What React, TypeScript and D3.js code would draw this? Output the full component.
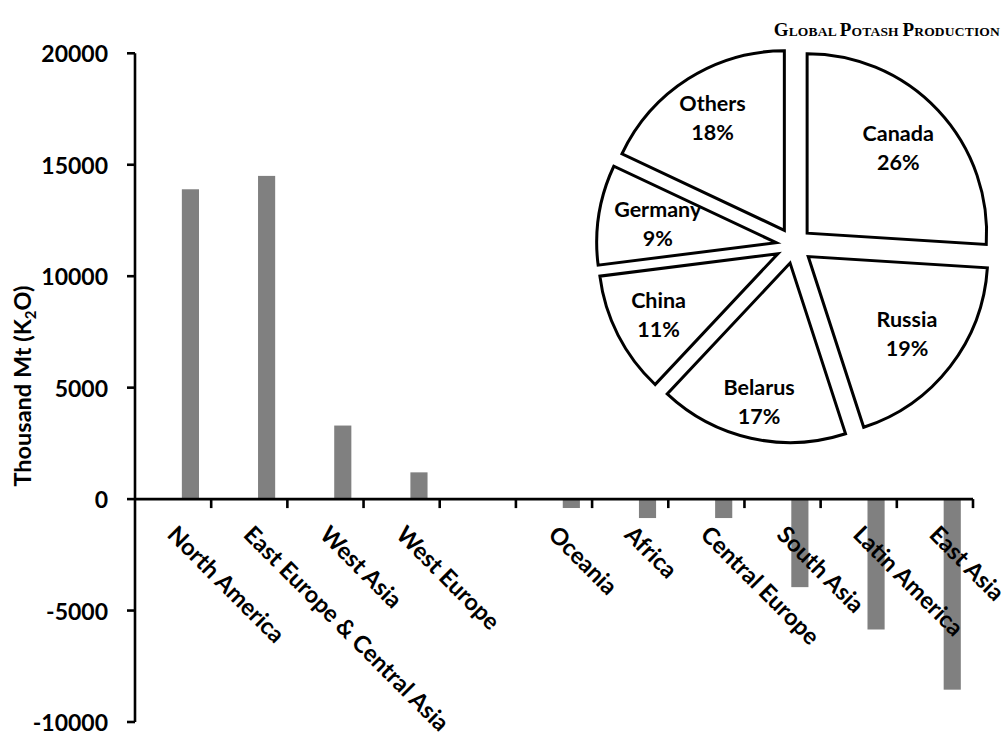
import React from "react";
import * as d3 from "d3";

const categories = [
  "North America",
  "East Europe & Central Asia",
  "West Asia",
  "West Europe",
  "",
  "Oceania",
  "Africa",
  "Central Europe",
  "South Asia",
  "Latin America",
  "East Asia",
];
const balance = [13900, 14500, 3300, 1200, null, -400, -850, -850, -3950, -5850, -8550];
const yTicks = [20000, 15000, 10000, 5000, 0, -5000, -10000];

const pieNames = ["Canada", "Russia", "Belarus", "China", "Germany", "Others"];
const pieShares = [26, 19, 17, 11, 9, 18];
const pieLabelDist = [143, 143, 160, 152, 138, 152];

const W = 1008;
const H = 747;
const AXIS_FONT = "Lato, 'Open Sans', sans-serif";

export default function App() {
  const x = d3.scaleBand<string>().domain(categories.map((c, i) => i + "|" + c)).range([135, 973]).padding(0);
  const y = d3.scaleLinear().domain([-10000, 20000]).range([722, 53.3]);
  const bw = x.bandwidth();
  const keys = x.domain();

  const pie = d3.pie<number>().sort(null).startAngle(0).endAngle(2 * Math.PI);
  const arcs = pie(pieShares);
  const R = 179.5;
  const explode = 18;
  const cx = 794;
  const cy = 245.5;
  const arcGen = d3.arc<d3.PieArcDatum<number>>().innerRadius(0).outerRadius(R);

  const y0 = y(0);

  return (
    <svg width={W} height={H} viewBox={`0 0 ${W} ${H}`} style={{ display: "block", position: "fixed", left: 0, top: 0, background: "#fff" }}>
      <rect width={W} height={H} fill="#fff" />
      {/* bars */}
      {balance.map((v, i) =>
        v === null ? null : (
          <rect
            key={"b" + i}
            x={(x(keys[i]) as number) + bw * 0.615}
            width={bw * 0.225}
            y={Math.min(y(v), y0)}
            height={Math.abs(y(v) - y0)}
            fill="#808080"
          />
        )
      )}
      {/* y axis */}
      <line x1={135} x2={135} y1={y(20000)} y2={y(-10000)} stroke="#000" strokeWidth={2.6} />
      {yTicks.map((t) => (
        <g key={"yt" + t}>
          <line x1={127} x2={135} y1={y(t)} y2={y(t)} stroke="#000" strokeWidth={2.6} />
          <text x={108} y={y(t)} textAnchor="end" dominantBaseline="central" fontFamily={AXIS_FONT} fontWeight="bold" fontSize={23} fill="#000">
            {t}
          </text>
        </g>
      ))}
      {/* x axis */}
      <line x1={135} x2={973} y1={y0} y2={y0} stroke="#000" strokeWidth={2.6} />
      {keys.map((k, i) => (
        <line key={"xt" + i} x1={(x(k) as number) + bw} x2={(x(k) as number) + bw} y1={y0} y2={y0 + 9} stroke="#000" strokeWidth={2.6} />
      ))}
      {categories.map((c, i) => {
        const center = (x(keys[i]) as number) + bw / 2;
        return (
          <text
            key={"xl" + i}
            transform={`translate(${center - 7},${536}) rotate(45)`}
            textAnchor="start"
            fontFamily={AXIS_FONT}
            fontWeight="bold"
            fontSize={23.5}
            fill="#000"
          >
            {c}
          </text>
        );
      })}
      {/* y title */}
      <text transform={`translate(31,386) rotate(-90)`} textAnchor="middle" fontFamily={AXIS_FONT} fontWeight="bold" fontSize={23.5} fill="#000">
        Thousand Mt (K<tspan fontSize={15} dy={5}>2</tspan>
        <tspan dy={-5}>O)</tspan>
      </text>
      {/* pie */}
      {arcs.map((a, i) => {
        const mid = (a.startAngle + a.endAngle) / 2;
        const dx = explode * Math.sin(mid);
        const dy = -explode * Math.cos(mid);
        const ld = pieLabelDist[i];
        const lx = cx + ld * Math.sin(mid);
        const ly = cy - ld * Math.cos(mid);
        return (
          <g key={"p" + i}>
            <path d={arcGen(a) as string} transform={`translate(${cx + dx},${cy + dy})`} fill="#fff" stroke="#000" strokeWidth={3} strokeLinejoin="miter" />
            <text x={lx} y={ly - 14.5} textAnchor="middle" dominantBaseline="central" fontFamily={AXIS_FONT} fontWeight="bold" fontSize={21.5} fill="#000">
              {pieNames[i]}
            </text>
            <text x={lx} y={ly + 14.5} textAnchor="middle" dominantBaseline="central" fontFamily={AXIS_FONT} fontWeight="bold" fontSize={21.5} fill="#000">
              {pieShares[i]}%
            </text>
          </g>
        );
      })}
      {/* title */}
      <text x={1000} y={36} textAnchor="end" fontFamily="'Liberation Serif', 'Times New Roman', serif" fontWeight="bold" fill="#000" letterSpacing={0.2}>
        <tspan fontSize={19}>G</tspan>
        <tspan fontSize={13.5}>LOBAL </tspan>
        <tspan fontSize={19}>P</tspan>
        <tspan fontSize={13.5}>OTASH </tspan>
        <tspan fontSize={19}>P</tspan>
        <tspan fontSize={13.5}>RODUCTION</tspan>
      </text>
    </svg>
  );
}
